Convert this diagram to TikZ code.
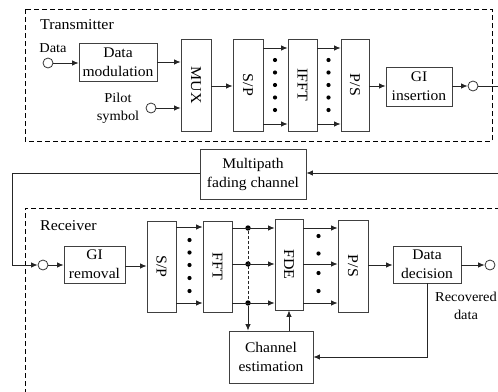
\documentclass[tikz,border=0pt]{standalone}
\usepackage{fontspec}
\setmainfont{Liberation Serif}[FakeStretch=1.06]
\usetikzlibrary{arrows.meta}
\begin{document}
\begin{tikzpicture}[x=1pt,y=-1pt,
  boxline/.style={draw=black!75,line width=0.9pt},
  blk/.style={boxline,rectangle,inner sep=0pt,align=center,
    font=\fontsize{14.7}{19}\selectfont},
  vtext/.style={rotate=-90,inner sep=0pt,font=\fontsize{15}{19}\selectfont},
  lbl/.style={inner sep=0pt,align=center,font=\fontsize{13.6}{18}\selectfont},
  ttl/.style={inner sep=0pt,anchor=west,font=\fontsize{15}{18}\selectfont},
  port/.style={circle,draw=black!80,line width=0.8pt,minimum size=10pt,inner sep=0pt},
  arr/.style={draw=black!85,line width=0.8pt,-{Latex[length=6.5pt,width=5.5pt]}},
  ln/.style={draw=black!85,line width=0.8pt},
  frame/.style={draw=black,line width=1pt,dash pattern=on 5pt off 3pt},
  dotty/.style={circle,fill=black,minimum size=4.2pt,inner sep=0pt},
  jdot/.style={circle,fill=black,minimum size=5.4pt,inner sep=0pt}]
\useasboundingbox (0,0) rectangle (498,391);

% ---------------- transmitter ----------------
\draw[frame] (25,9) rectangle (492,141);
\node[ttl] (txtitle) at (40,25) {Transmitter};
\node[lbl] (datalbl) at (53,48) {Data};
\node[port] (cdata) at (48,63) {};
\node[blk,minimum width=78pt,minimum height=38pt] (dmod) at (118,62) {Data\\modulation};
\node[blk,minimum width=30pt,minimum height=92pt] (mux) at (196,85) {};
\node[vtext] (muxt) at (mux) {MUX};
\node[lbl] (pilotlbl) at (118,108) {Pilot\\symbol};
\node[port] (cpilot) at (151,108) {};
\node[blk,minimum width=30pt,minimum height=92pt] (sp) at (248,85) {};
\node[vtext] (spt) at (sp) {S/P};
\node[blk,minimum width=29pt,minimum height=92pt] (ifft) at (302.5,85) {};
\node[vtext] (ifftt) at (ifft) {IFFT};
\node[blk,minimum width=28pt,minimum height=92pt] (ps) at (355,85) {};
\node[vtext] (pst) at (ps) {P/S};
\node[blk,minimum width=66pt,minimum height=39pt] (gi) at (419,86.5) {GI\\insertion};
\node[port] (cout) at (473,86) {};
\coordinate (txend) at (500,86);

\draw[arr] (cdata) -- (dmod.west |- cdata);
\draw[arr] (dmod.east) -- (mux.west |- dmod.east);
\draw[arr] (cpilot) -- (mux.west |- cpilot);
\draw[arr] (mux.east |- 0,86) -- (sp.west |- 0,86);
\foreach \yy in {48,124}{
  \draw[arr] (sp.east |- 0,\yy) -- (ifft.west |- 0,\yy);
  \draw[arr] (ifft.east |- 0,\yy) -- (ps.west |- 0,\yy);
}
\foreach \yy in {60,72.5,85,97.5,110}{
  \node[dotty] at (275,\yy) {};
  \node[dotty] at (328.5,\yy) {};
}
\draw[arr] (ps.east |- 0,86) -- (gi.west |- 0,86);
\draw[arr] (gi.east |- cout) -- (cout);
\draw[ln] (cout) -- (txend);

% ---------------- channel ----------------
\node[blk,minimum width=106pt,minimum height=50pt] (mp) at (253,174) {Multipath\\fading channel};
\coordinate (chin) at (500,173);
\coordinate (bendA) at (12,173);
\coordinate (bendB) at (12,265);
\draw[arr] (chin) -- (mp.east |- chin);

% ---------------- receiver ----------------
\draw[frame] (500,208) -- (25,208) -- (25,395);
\node[ttl] (rxtitle) at (40,226) {Receiver};
\node[port] (rin) at (43,265) {};
\draw[arr] (mp.west |- bendA) -- (bendA) -- (bendB) -- (rin);
\node[blk,minimum width=61pt,minimum height=37pt] (gir) at (94.5,264.5) {GI\\removal};
\node[blk,minimum width=29pt,minimum height=91pt] (sp2) at (161.5,266.5) {};
\node[vtext] (sp2t) at (sp2) {S/P};
\node[blk,minimum width=29pt,minimum height=91pt] (fft) at (217.5,266.5) {};
\node[vtext] (fftt) at (fft) {FFT};
\node[blk,minimum width=28pt,minimum height=91pt] (fde) at (289,264.5) {};
\node[vtext] (fdet) at (fde) {FDE};
\node[blk,minimum width=30pt,minimum height=92pt] (ps2) at (353,266) {};
\node[vtext] (ps2t) at (ps2) {P/S};
\node[blk,minimum width=68pt,minimum height=37pt] (dd) at (427,264.5) {Data\\decision};
\node[port] (rout) at (490,265) {};
\node[lbl] (reclbl) at (466,306) {Recovered\\data};
\node[blk,minimum width=84pt,minimum height=52pt] (ce) at (271,357) {Channel\\estimation};

\draw[arr] (rin) -- (gir.west |- rin);
\draw[arr] (gir.east |- 0,266) -- (sp2.west |- 0,266);
\foreach \yy in {227,303}
  \draw[arr] (sp2.east |- 0,\yy) -- (fft.west |- 0,\yy);
\foreach \yy in {240,252.5,265,278,291}
  \node[dotty] at (189.5,\yy) {};
\foreach \yy/\nm in {228/ja,264/jb,303/jc}{
  \node[jdot] (\nm) at (248,\yy) {};
  \draw[arr] (fft.east |- 0,\yy) -- (fde.west |- 0,\yy);
  \draw[arr] (fde.east |- 0,\yy) -- (ps2.west |- 0,\yy);
}
\foreach \yy in {236,253.5,273,291}
  \node[dotty] at (318.5,\yy) {};
\draw[ln,dash pattern=on 3pt off 2pt] (ja) -- (jc);
\draw[arr] (jc) -- (ce.north -| jc);
\draw[arr] (ce.north -| fde) -- (fde.south);
\draw[arr] (ps2.east |- 0,265) -- (dd.west |- 0,265);
\draw[arr] (dd.east |- rout) -- (rout);
\draw[arr] (dd.south) -- (dd.south |- ce.east) -- (ce.east);
\end{tikzpicture}
\end{document}
